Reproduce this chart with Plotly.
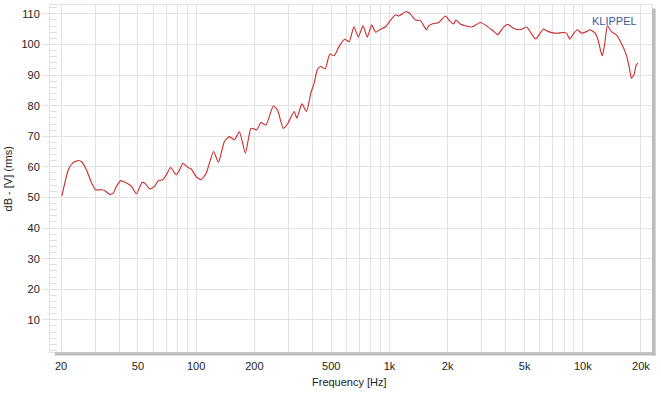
import numpy as np
import plotly.graph_objects as go

# Frequency response
freq_hz = [20.2, 21.8, 23.1, 24.6, 25.6, 27.1, 28.8, 30.2, 32.4, 33.7, 35.8, 37.2, 38.7, 40.7,
           43.6, 46.3, 49.1, 52.5, 54.2, 57.5, 61.0, 63.5, 67.3, 70.1, 73.8, 78.9, 82.1, 85.4,
           90.6, 94.3, 100, 106, 112.7, 123, 130.4, 140, 148.6, 157.8, 167.4, 179.8, 192.3,
           205.6, 216.6, 229.7, 250.6, 263.7, 282, 297, 321, 332, 352, 372, 392, 408, 424, 441,
           465, 491, 517, 548, 587, 618, 655, 690, 730, 768, 809, 848, 899, 955, 1014, 1075,
           1117, 1219, 1270, 1365, 1447, 1553, 1597, 1660, 1799, 1946, 2042, 2148, 2208, 2323,
           2466, 2668, 2950, 3128, 3383, 3631, 3890, 4093, 4377, 4742, 5129, 5400, 5702, 6252,
           6635, 7178, 7467, 7925, 8240, 8576, 8919, 9397, 9843, 10447, 10866, 11535, 11995,
           12390, 12620, 13000, 13400, 14060, 14930, 15820, 16800, 17500, 17830, 18400, 18900,
           19300]
level_db = [50.5, 59.0, 61.4, 62.1, 61.6, 59.0, 54.7, 52.5, 52.5, 52.2, 51.0, 51.4, 53.6, 55.5,
            54.7, 53.6, 51.2, 54.9, 54.7, 52.8, 53.6, 55.4, 55.8, 57.4, 59.8, 57.4, 59.0, 61.2,
            59.8, 59.3, 56.8, 55.8, 57.9, 65.0, 61.5, 68.3, 69.9, 68.8, 71.5, 64.5, 72.6,
            72.1, 74.5, 73.7, 79.9, 78.6, 72.6, 74.0, 78.1, 75.9, 80.6, 78.1, 84.1, 87.4, 91.9, 92.8,
            92.0, 96.9, 96.3, 99.3, 101.7, 100.9, 105.8, 102.4, 106.1, 102.4, 106.4, 104.0, 105.0, 105.8, 108.0, 109.7,
            109.3, 110.8, 110.2, 108.0, 107.8, 104.8, 106.1, 106.7, 107.2, 109.3, 107.8, 106.7, 108.0, 106.7,
            106.1, 105.7, 107.2, 106.4, 104.8, 103.2, 105.7, 106.6, 105.3, 104.8, 105.7, 103.7, 101.8, 105.0,
            104.2, 103.7, 103.7, 103.9, 103.7, 101.7, 103.4, 104.8, 103.7, 104.2, 104.8, 103.9, 101.5,
            97.7, 96.3, 100.4, 106.1, 104.2, 103.1, 100.4, 96.6, 91.7, 89.0, 90.1, 93.3,
            93.9]

x_grid = [20, 30, 40, 50, 60, 70, 80, 90, 100, 200, 300, 400, 500, 600, 700, 800, 900,
          1000, 2000, 3000, 4000, 5000, 6000, 7000, 8000, 9000, 10000, 20000]
x_labels = {20: "20", 50: "50", 100: "100", 200: "200", 500: "500", 1000: "1k",
            2000: "2k", 5000: "5k", 10000: "10k", 20000: "20k"}
decades = [100, 1000, 10000]
y_ticks = [10, 20, 30, 40, 50, 60, 70, 80, 90, 100, 110]

FONT = "Liberation Sans, Arial, sans-serif"

fig = go.Figure()
fig.add_trace(go.Scatter(x=freq_hz, y=level_db, mode="lines",
                         line=dict(color="#cc2a2a", width=1.1, shape="spline", smoothing=0.5),
                         hoverinfo="skip", showlegend=False))

shapes = []
for d in decades:
    shapes.append(dict(type="line", xref="x", yref="paper", x0=np.log10(d), x1=np.log10(d),
                       y0=0, y1=1, line=dict(color="#c6c6c6", width=1.3), layer="below"))
# frame shadow (bottom and right)
shapes.append(dict(type="rect", xref="paper", yref="paper", x0=0.008, x1=1.006, y0=-0.010, y1=-0.001,
                   line=dict(width=0), fillcolor="#bdbdbd", layer="above"))
shapes.append(dict(type="rect", xref="paper", yref="paper", x0=1.0, x1=1.006, y0=-0.010, y1=0.99,
                   line=dict(width=0), fillcolor="#bdbdbd", layer="above"))

fig.update_layout(
    width=661, height=394,
    margin=dict(l=50, r=9, t=5, b=42),
    paper_bgcolor="white", plot_bgcolor="white",
    font=dict(family=FONT, size=11, color="#222222"),
    shapes=shapes,
    xaxis=dict(type="log", range=[1.244, 4.358],
               tickvals=x_grid, ticktext=[x_labels.get(v, "") for v in x_grid],
               showgrid=True, gridcolor="#e2e2e2", gridwidth=1,
               ticks="", zeroline=False, showline=True, linecolor="#e2e2e2",
               mirror=True, tickfont=dict(size=11, color="#222222"),
               ticklabelstandoff=4),
    yaxis=dict(range=[-0.5, 112.9], tickvals=y_ticks,
               showgrid=True, gridcolor="#e2e2e2", gridwidth=1,
               ticks="outside", ticklen=7, tickcolor="#e2e2e2",
               zeroline=False, showline=True, linecolor="#e2e2e2", mirror=True,
               tickfont=dict(size=11, color="#222222"),
               minor=dict(dtick=2, ticks="inside", ticklen=7, tickcolor="#dcdcdc", showgrid=False)),
    annotations=[
        dict(text="dB - [V] (rms)", xref="paper", yref="paper", x=-0.0698, y=0.5,
             textangle=-90, showarrow=False, xanchor="center", yanchor="middle",
             font=dict(size=11, color="#222222")),
        dict(text="Frequency [Hz]", xref="paper", yref="paper", x=0.498, y=-0.0865,
             showarrow=False, xanchor="center", yanchor="middle",
             font=dict(size=11, color="#222222")),
        dict(text="KLIPPEL", xref="paper", yref="paper", x=0.9385, y=0.954,
             showarrow=False, xanchor="center", yanchor="middle",
             font=dict(size=11, color="#3d5a99")),
    ],
)

fig.write_html("out.html", config={"displayModeBar": False, "staticPlot": True},
               post_script="document.body.style.margin='0';document.body.style.overflow='hidden';")
